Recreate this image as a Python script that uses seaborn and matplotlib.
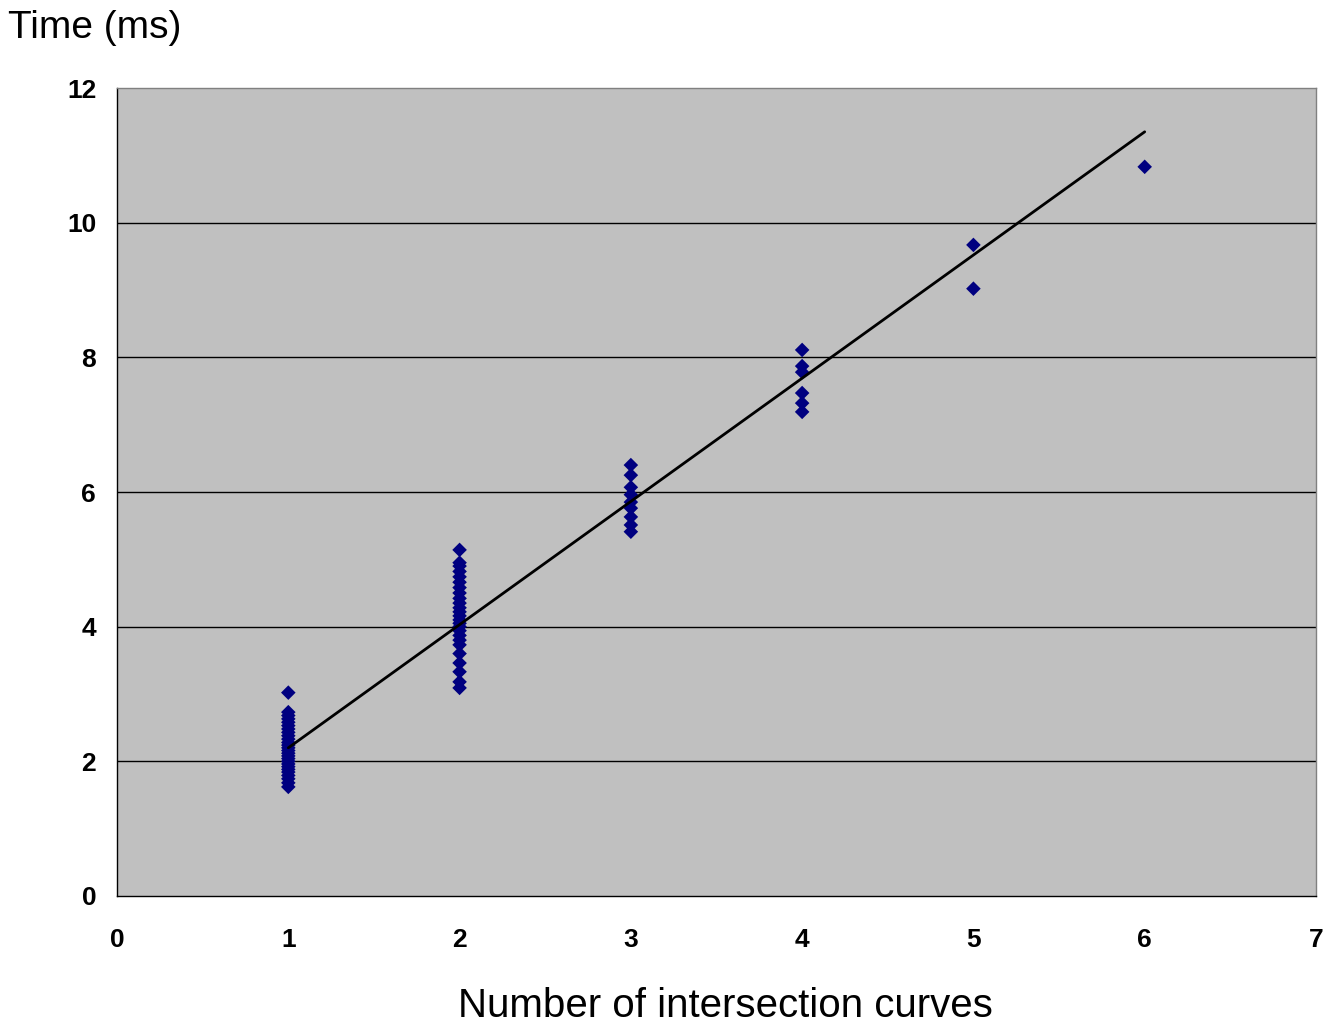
import matplotlib
matplotlib.use('Agg')
import matplotlib.pyplot as plt
import seaborn as sns
import numpy as np
import pandas as pd

# --- dane ---
t_1 = [1.62, 1.68, 1.74, 1.79, 1.84, 1.88, 1.92, 1.96, 2.0, 2.04, 2.08, 2.12, 2.16,
       2.2, 2.24, 2.28, 2.33, 2.38, 2.43, 2.48, 2.53, 2.58, 2.63, 2.68, 2.73, 3.02]
t_2 = [3.09, 3.18, 3.33, 3.46, 3.6, 3.73, 3.8, 3.87, 3.94, 4.0, 4.05, 4.1, 4.16,
       4.22, 4.28, 4.35, 4.42, 4.5, 4.58, 4.66, 4.74, 4.82, 4.9, 4.95, 5.14]
t_3 = [5.41, 5.51, 5.63, 5.76, 5.85, 5.96, 6.07, 6.25, 6.4]
t_4 = [7.19, 7.32, 7.47, 7.78, 7.87, 8.11]
t_5 = [9.02, 9.67]
t_6 = [10.83]
curves = [1, 2, 3, 4, 5, 6]

# linia trendu
trend_slope = 1.83
trend_intercept = 0.37
trend_range = [1, 6]

x_ticks = [0, 1, 2, 3, 4, 5, 6, 7]
y_ticks = [0, 2, 4, 6, 8, 10, 12]

groups = [t_1, t_2, t_3, t_4, t_5, t_6]
df = pd.DataFrame({
    'curves': np.concatenate([[c] * len(g) for c, g in zip(curves, groups)]),
    'time': np.concatenate(groups),
})

sns.set_style('white')
plt.rcParams['font.family'] = ['Liberation Sans', 'DejaVu Sans']
plt.rcParams['text.color'] = 'black'
plt.rcParams['xtick.color'] = 'black'
plt.rcParams['ytick.color'] = 'black'

fig = plt.figure(figsize=(13.39, 10.25), dpi=100)
ax = fig.add_axes([0.0874, 0.1259, 0.8954, 0.7882])
ax.set_facecolor('#c0c0c0')

for yv in y_ticks[1:-1]:
    ax.axhline(yv, color='black', linewidth=1, zorder=1)

sns.scatterplot(data=df, x='curves', y='time', marker='D', s=55, color='#000080',
                edgecolor='none', ax=ax, zorder=3)

xs = np.array(trend_range)
ax.plot(xs, trend_slope * xs + trend_intercept, color='black', linewidth=2, zorder=4)

ax.set_xlim(0, 7)
ax.set_ylim(0, 12)
ax.set_xticks(x_ticks)
ax.set_yticks(y_ticks)
ax.tick_params(axis='both', direction='out', length=6, width=1, color='black',
               labelsize=19, labelcolor='black')
ax.tick_params(axis='y', pad=9)
ax.tick_params(axis='x', pad=17)
for lbl in ax.get_xticklabels() + ax.get_yticklabels():
    lbl.set_fontweight('bold')

for side in ['left', 'bottom']:
    ax.spines[side].set_color('black')
    ax.spines[side].set_linewidth(1)
for side in ['top', 'right']:
    ax.spines[side].set_color('#808080')
    ax.spines[side].set_linewidth(1)

ax.set_xlabel('')
ax.set_ylabel('')
fig.text(0.006, 0.963, 'Time (ms)', fontsize=28, ha='left', va='baseline')
fig.text(725 / 1339, 0.0, 'Number of intersection curves', fontsize=29,
         ha='center', va='bottom')

plt.savefig('out.png', dpi=100)
plt.close()
